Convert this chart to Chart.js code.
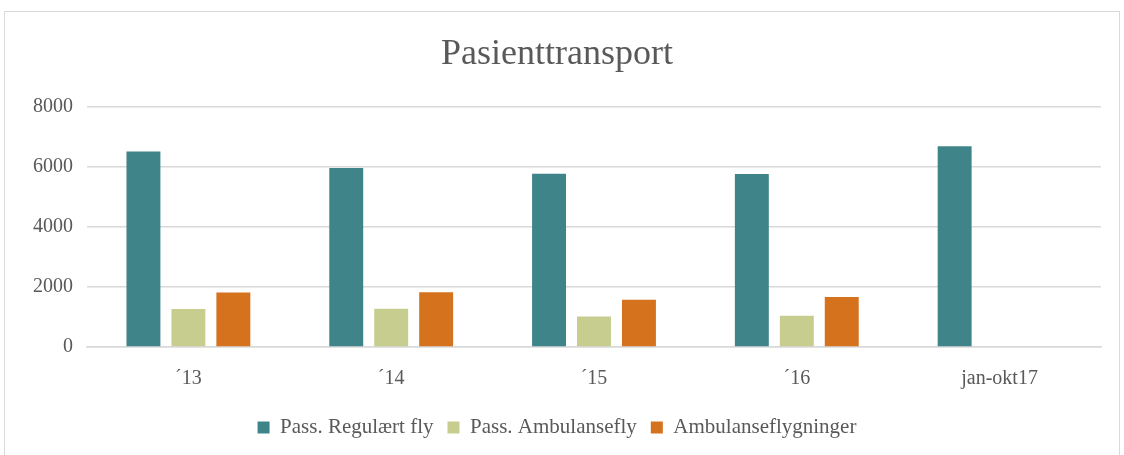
<!DOCTYPE html>
<html lang="no">
<head>
  <meta charset="UTF-8" />
  <title>Pasienttransport</title>
  <script src="https://cdn.jsdelivr.net/npm/chart.js"></script>
  <style>
    body { margin: 0; background: #fff; }
    .chart-box {
      position: absolute;
      left: 4px; top: 11px;
      width: 1116px; height: 460px;
      border: 1px solid #d9d9d9;
      box-sizing: border-box;
    }
    canvas { display: block; }
  </style>
</head>
<body>
  <div class="chart-box"><canvas id="chart"></canvas></div>

  <script>
    const kategorier = ['´13', '´14', '´15', '´16', 'jan-okt17'];
    const regulaertFly = [6520, 5970, 5780, 5770, 6700];
    const ambulansefly = [1270, 1280, 1020, 1040, null];
    const ambulanseflygninger = [1820, 1830, 1580, 1670, null];
    const yTicks = [0, 2000, 4000, 6000, 8000];

    const serif = "'Liberation Serif', 'DejaVu Serif', serif";
    const grey = '#595959';

    new Chart(document.getElementById('chart'), {
      type: 'bar',
      data: {
        labels: kategorier,
        datasets: [
          { label: 'Pass. Regulært fly', data: regulaertFly, backgroundColor: '#3f8489' },
          { label: 'Pass. Ambulansefly', data: ambulansefly, backgroundColor: '#c6cd8f' },
          { label: 'Ambulanseflygninger', data: ambulanseflygninger, backgroundColor: '#d4721e' }
        ]
      },
      options: {
        responsive: true,
        maintainAspectRatio: false,
        animation: false,
        datasets: { bar: { categoryPercentage: 0.665, barPercentage: 0.755 } },
        layout: { padding: { left: 8, right: 18, top: 8, bottom: 22 } },
        plugins: {
          title: {
            display: true,
            text: 'Pasienttransport',
            color: grey,
            font: { family: serif, size: 36, weight: 'normal' },
            padding: { top: 13, bottom: 31 }
          },
          legend: {
            position: 'bottom',
            labels: {
              color: grey,
              font: { family: serif, size: 21 },
              boxWidth: 12, boxHeight: 12,
              padding: 14
            }
          },
          tooltip: { enabled: false }
        },
        scales: {
          x: {
            grid: { display: false },
            border: { color: '#d9d9d9', width: 1.5 },
            ticks: { color: grey, font: { family: serif, size: 20 }, padding: 12 }
          },
          y: {
            min: 0, max: 8000,
            afterBuildTicks: axis => { axis.ticks = yTicks.map(v => ({ value: v })); },
            afterFit: axis => { axis.width = 74; },
            grid: { color: '#d9d9d9', lineWidth: 1.5, drawTicks: false },
            border: { display: false },
            ticks: {
              color: grey,
              font: { family: serif, size: 20 },
              padding: 14,
              callback: v => String(v)
            }
          }
        }
      }
    });
  </script>
</body>
</html>
